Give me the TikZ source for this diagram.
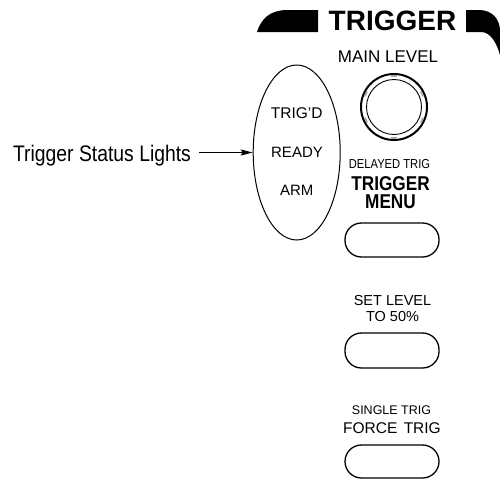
\documentclass[tikz,border=0pt]{standalone}
\usepackage{fontspec}
\setmainfont{Liberation Sans}
\newfontfamily\narfont[FakeStretch=0.86]{Liberation Sans}
\usetikzlibrary{arrows.meta,shapes.geometric}
\tikzset{
  lbl/.style={inner sep=0pt, anchor=base, align=center},
  btn/.style={draw, line width=1.3pt, rounded corners=16.5pt, inner sep=0pt, minimum width=94pt},
  bar/.style={fill=black, draw=none},
}
\newcommand{\fsz}[1]{\fontsize{#1}{#1}\selectfont}
\begin{document}
\begin{tikzpicture}[x=1pt,y=-1pt]
\useasboundingbox (0,0) rectangle (500,479);
% header bars
\path[bar] (257,32) .. controls (261,19) and (270,10) .. (287,10) -- (318,10) -- (318,32) -- cycle;
\path[bar] (466,10) -- (479,10) .. controls (492,10) and (500,19) .. (500,31) -- (500,55) .. controls (497,44) and (491,32) .. (481,32) -- (466,32) -- cycle;
\node[lbl] (title) at (392.5,30.5) {\fsz{28}\bfseries TRIGGER};
% main level knob
\node[lbl] (mainlevel) at (388,62) {\fsz{17}MAIN LEVEL};
\node[circle, draw, line width=2pt, minimum size=66pt, inner sep=0pt] (knob) at (394,107) {};
\node[circle, draw, line width=0.9pt, minimum size=55pt, inner sep=0pt] (knobin) at (394,107) {};
\foreach \a in {90,270,25,155,205,335}
  \draw[gray!70, line width=1.6pt] ([shift={(\a-5:31pt)}]knob.center) arc[start angle=\a-5, end angle=\a+5, radius=31pt];
% status lights
\node[ellipse, draw, line width=1pt, minimum width=87pt, minimum height=175pt, inner sep=0pt] (ell) at (296.7,152.5) {};
\node[lbl] (trigd) at (296.7,118.3) {\fsz{15.5}TRIG'D};
\node[lbl] (ready) at (297,157.3) {\fsz{15}READY};
\node[lbl] (arm) at (296.7,195) {\fsz{15}ARM};
\node[lbl] (status) at (102,161.7) {\fsz{22.5}\narfont Trigger Status Lights};
\draw[line width=1pt, -{Stealth[length=12pt,width=6pt,inset=2pt]}, shorten <=8pt] (status.east |- ell.west) -- (ell.west);
% trigger menu
\node[lbl] (delayed) at (389.5,168.3) {\fsz{13}\narfont DELAYED TRIG};
\node[inner sep=0pt, align=center, anchor=center, font=\narfont\bfseries\fontsize{20}{17.6}\selectfont] (trigmenu) at (390.5,192.5) {TRIGGER\\MENU};
\node[btn, minimum height=34pt] (b1) at (392,240) {};
% set level
\node[lbl] (setlevel) at (392.5,305) {\fsz{14.5}SET LEVEL};
\node[lbl] (to50) at (392.5,321) {\fsz{14.5}TO 50\%};
\node[btn, minimum height=35pt] (b2) at (392,350.5) {};
% single trig
\node[lbl] (single) at (391.5,414) {\fsz{12.5}SINGLE TRIG};
\node[lbl] (force) at (392,433.3) {\fsz{15.5}FORCE\hspace{2pt} TRIG};
\node[btn, minimum height=33pt] (b3) at (392,461.5) {};
\end{tikzpicture}
\end{document}
